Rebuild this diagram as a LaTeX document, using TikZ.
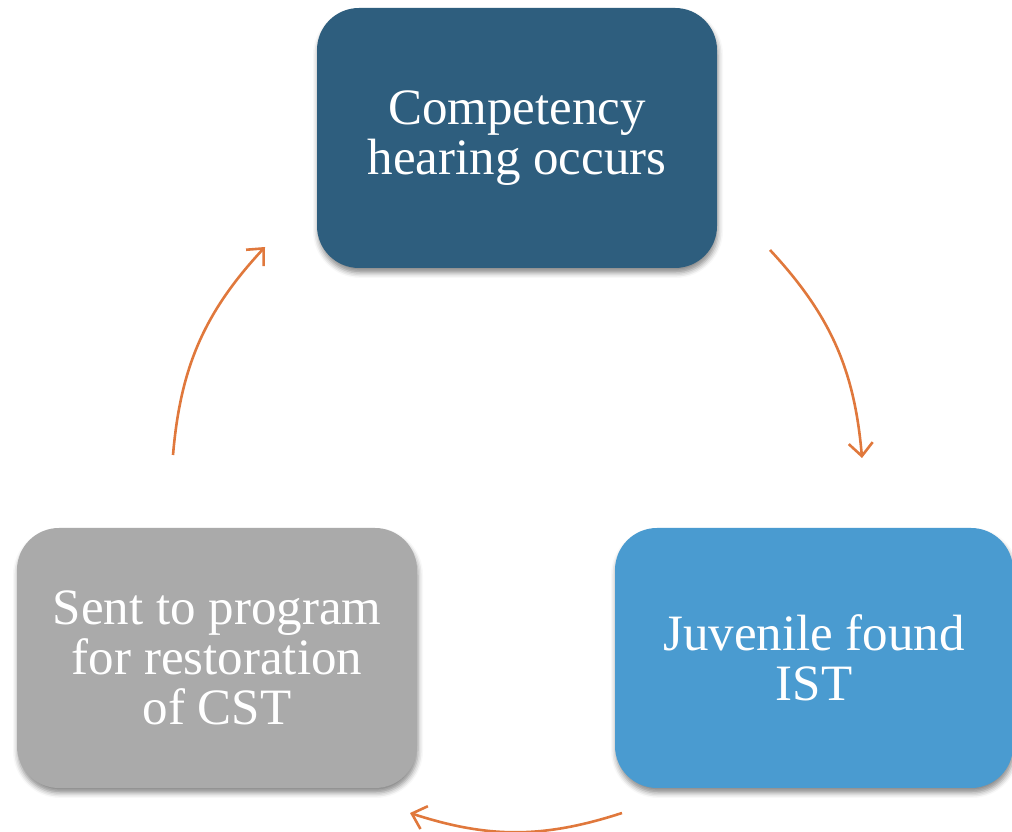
\documentclass[tikz,border=0pt]{standalone}
\usepackage{fontspec}
\setmainfont{Liberation Serif}
\usetikzlibrary{arrows.meta,shadows.blur}
\definecolor{stepdark}{HTML}{2E5E7E}
\definecolor{steplight}{HTML}{4A9BD0}
\definecolor{stepgray}{HTML}{AAAAAA}
\definecolor{cycorange}{HTML}{E0783C}

\begin{document}
\begin{tikzpicture}[x=1pt,y=1pt,
    stage/.style={rounded corners=42pt,minimum width=400pt,minimum height=260pt,
      text=white,align=center,font=\fontsize{51}{50}\selectfont,
      blur shadow={shadow xshift=1pt,shadow yshift=-5pt,shadow blur radius=5pt,shadow opacity=45}},
    cyclearrow/.style={-{Straight Barb[length=13pt,width=24pt]},line width=2.6pt,draw=cycorange}]
    \useasboundingbox (0,0) rectangle (1012,832);
    % the three stages
    \node[stage,fill=stepdark] (hearing) at (517,694) {Competency\\hearing occurs};
    \node[stage,fill=steplight,minimum width=398pt] (found) at (814,174) {Juvenile found\\IST};
    \node[stage,fill=stepgray] (program) at (217,174) {Sent to program\\for restoration\\of CST};
    % ends of the arcs
    \coordinate (hearingout) at (770,582);
    \coordinate (foundin) at (862,374);
    \coordinate (foundout) at (622,19);
    \coordinate (programin) at (410,19);
    \coordinate (programout) at (173,377);
    \coordinate (hearingin) at (265,585);
    \draw[cyclearrow] (hearingout) to[bend left=19] (foundin);
    \draw[cyclearrow] (foundout) to[bend left=18] (programin);
    \draw[cyclearrow] (programout) to[bend left=19] (hearingin);
  \end{tikzpicture}
\end{document}
